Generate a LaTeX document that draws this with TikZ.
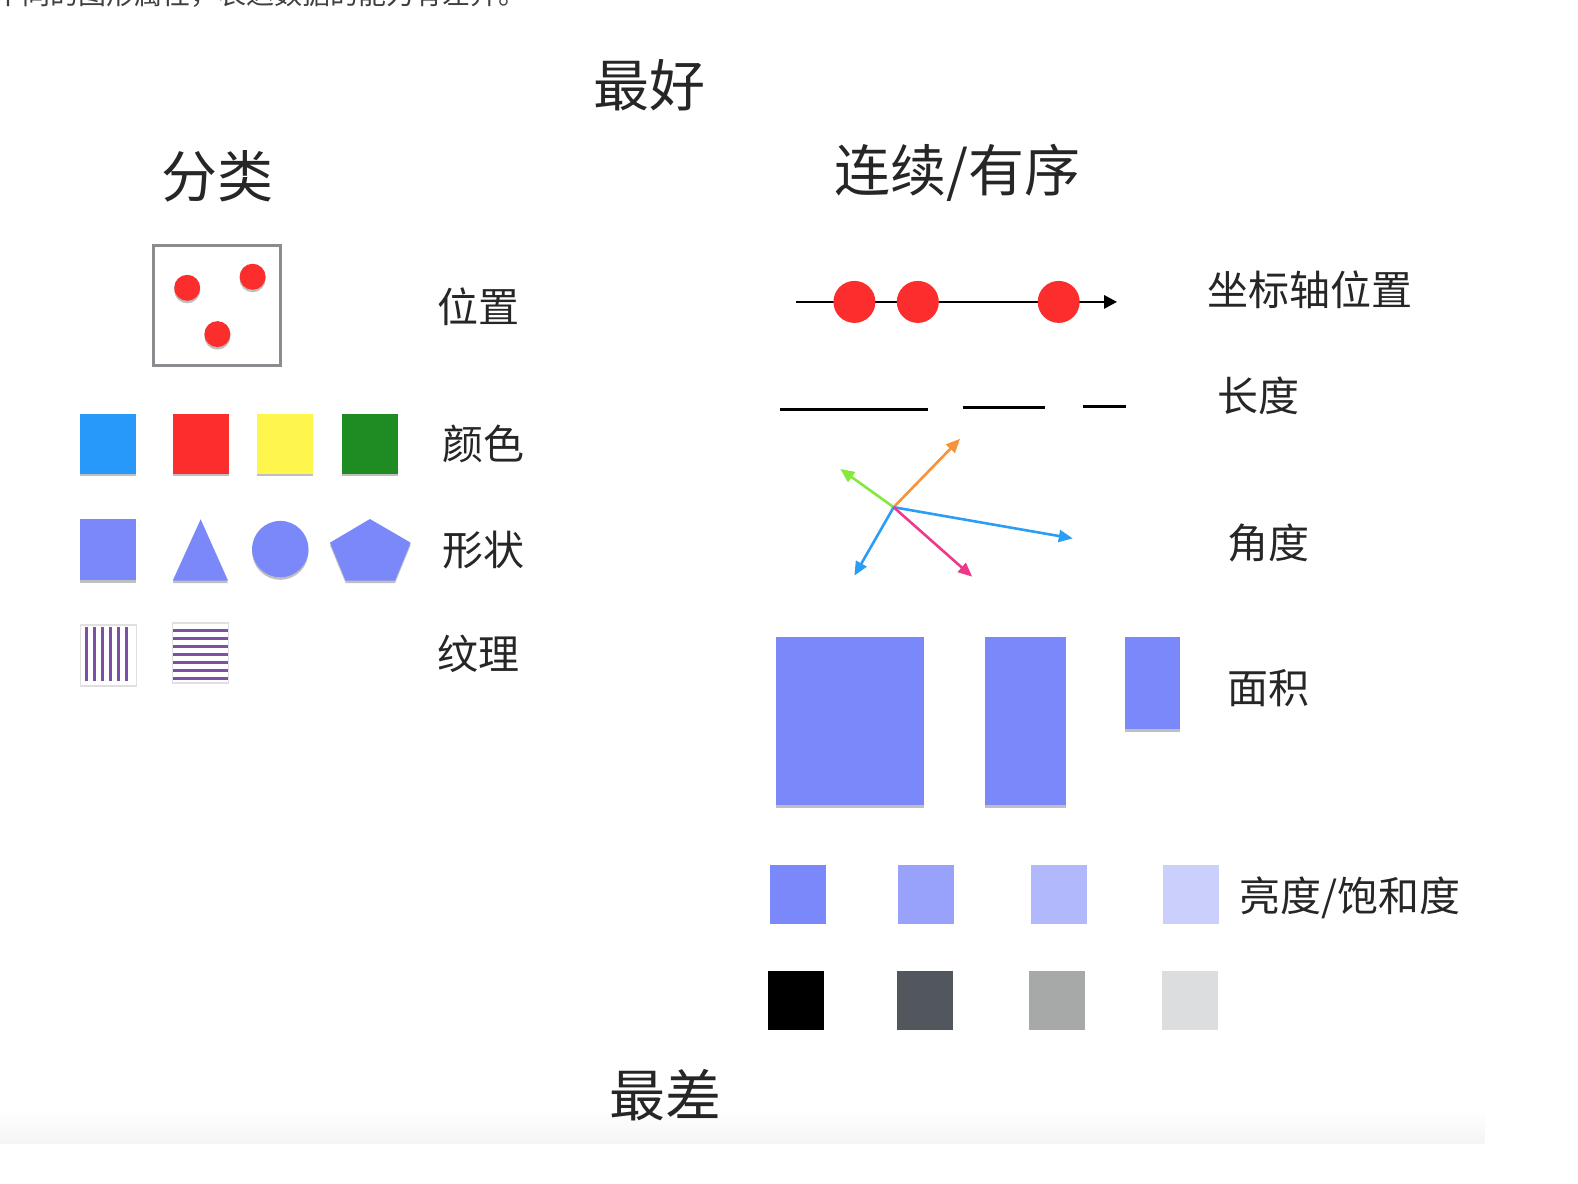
\documentclass[tikz,border=0pt]{standalone}
\usepackage{fontspec}
\setmainfont{Noto Sans CJK SC}
\definecolor{attrBlue}{HTML}{2699FB}
\definecolor{attrRed}{HTML}{FB2D2D}
\definecolor{attrYellow}{HTML}{FFF64D}
\definecolor{attrGreen}{HTML}{1E8C23}
\definecolor{shapeBlue}{HTML}{7B88FA}
\definecolor{hatchPurple}{HTML}{7D4FA8}
\definecolor{frameGray}{HTML}{8A8C90}
\definecolor{rayGreen}{HTML}{86E83A}
\definecolor{rayOrange}{HTML}{F7933A}
\definecolor{rayBlue}{HTML}{2A9DF4}
\definecolor{rayPink}{HTML}{F0388B}
\definecolor{lumA}{HTML}{7B88FA}
\definecolor{lumB}{HTML}{98A2FA}
\definecolor{lumC}{HTML}{B1B8FB}
\definecolor{lumD}{HTML}{CBCFFC}
\definecolor{greyA}{HTML}{000000}
\definecolor{greyB}{HTML}{52565D}
\definecolor{greyC}{HTML}{A7A8A8}
\definecolor{greyD}{HTML}{DCDDDF}
\usetikzlibrary{shadows,arrows.meta}

\begin{document}
\begin{tikzpicture}[
  x=1.0064pt, y=-1.0064pt,
  title/.style={font=\fontsize{56}{62}\selectfont, text=black!85},
  attr/.style={font=\fontsize{41}{46}\selectfont, text=black!85},
  soft/.style={drop shadow={shadow xshift=0pt, shadow yshift=-2.5pt, opacity=.25, fill=black}},
  swatch/.style={rectangle, inner sep=0pt, minimum width=56pt, minimum height=59pt, soft},
  dot/.style={circle, fill=attrRed, inner sep=0pt, minimum size=#1},
  dot/.default=26pt,
  hatch/.style={draw=hatchPurple, line width=3pt},
  axis/.style={-{Triangle[length=13pt,width=13pt]}, draw=black, line width=2.8pt},
  bar/.style={draw=black, line width=3pt},
  ray/.style={-{Triangle[length=14pt,width=12pt]}, line width=2.6pt}
]
  \useasboundingbox (0,0) rectangle (1568,1176);
  % cut-off line of the page above
  \begin{scope}
    \clip (0,0) rectangle (1568,20);
    \node[anchor=base west, inner sep=0pt, font=\fontsize{28}{30}\selectfont, text=black!75] (pageText) at (-6,4) {不同的图形属性，表达数据的能力有差异。};
  \end{scope}
  \shade[top color=white, bottom color=black!4] (0,1101) rectangle (1475,1136);

  % headings
  \node[title] (best) at (645,85) {最好};
  \node[title] (worst) at (661,1088) {最差};
  \node[title] (catHead) at (216,175) {分类};
  \node[title] (ordHead) at (951,172) {连续/有序};

  % categorical: position
  \node[draw=frameGray, line width=3pt, minimum width=127pt, minimum height=120pt] (posBox) at (216,304) {};
  \node[dot, soft] (posDotA) at (186,286) {};
  \node[dot, soft] (posDotB) at (251,275) {};
  \node[dot, soft] (posDotC) at (216,332) {};
  \node[attr] (posLabel) at (475,305) {位置};

  % categorical: colour
  \foreach \cx/\col [count=\i] in {107/attrBlue, 199.5/attrRed, 283.5/attrYellow, 367.5/attrGreen}
    \node[swatch, fill=\col, minimum height=60pt] (colour\i) at (\cx,441) {};
  \node[attr] (colourLabel) at (480,441) {颜色};

  % categorical: shape
  \node[swatch, fill=shapeBlue, minimum height=61pt] (shapeSquare) at (107.5,546.5) {};
  \fill[shapeBlue, soft] (199.4,516) -- (226.6,577) -- (171.6,577) -- cycle;
  \fill[shapeBlue, soft] (278.5,545.6) circle (28);
  \fill[shapeBlue, soft] (367.6,515.7) -- (408,539.2) -- (392.5,577) -- (343.5,577) -- (327.9,539.2) -- cycle;
  \node[attr] (shapeLabel) at (480,547) {形状};

  % categorical: texture
  \node[draw=black!12, line width=1.5pt, minimum width=56pt, minimum height=61pt] (texV) at (108,651.5) {};
  \foreach \lx in {86,94,...,126}
    \draw[hatch] (\lx,623) -- (\lx,676.5);
  \node[draw=black!12, line width=1.5pt, minimum width=56pt, minimum height=60pt] (texH) at (199,649) {};
  \foreach \ly in {626,634,...,674}
    \draw[hatch] (172,\ly) -- (226.5,\ly);
  \node[attr] (texLabel) at (475,650) {纹理};

  % ordered: axis position
  \coordinate (axisStart) at (791,300);
  \coordinate (axisEnd) at (1110,300);
  \draw[axis] (axisStart) -- (axisEnd);
  \node[dot=42pt] (axisDotA) at (849,300) {};
  \node[dot=42pt] (axisDotB) at (912,300) {};
  \node[dot=42pt] (axisDotC) at (1052,300) {};
  \node[attr] (axisLabel) at (1302,288) {坐标轴位置};

  % ordered: length
  \coordinate (lenA1) at (775,407);  \coordinate (lenA2) at (922,407);
  \coordinate (lenB1) at (957,405);  \coordinate (lenB2) at (1038,405);
  \coordinate (lenC1) at (1076,404); \coordinate (lenC2) at (1119,404);
  \draw[bar] (lenA1) -- (lenA2);
  \draw[bar] (lenB1) -- (lenB2);
  \draw[bar] (lenC1) -- (lenC2);
  \node[attr] (lenLabel) at (1251,393) {长度};

  % ordered: angle
  \coordinate (angO) at (888,504);
  \coordinate (angGreen) at (835,466);
  \coordinate (angOrange) at (954,436);
  \coordinate (angRight) at (1066,535);
  \coordinate (angDown) at (849,572);
  \coordinate (angPink) at (966,573);
  \foreach \tip/\col in {angGreen/rayGreen, angOrange/rayOrange, angRight/rayBlue, angDown/rayBlue, angPink/rayPink}
    \draw[ray, draw=\col, fill=\col] (angO) -- (\tip);
  \node[attr] (angLabel) at (1260,540) {角度};

  % ordered: area
  \node[swatch, fill=shapeBlue, minimum width=148pt, minimum height=168pt] (areaA) at (845,716.6) {};
  \node[swatch, fill=shapeBlue, minimum width=81pt, minimum height=168pt] (areaB) at (1018.5,716.6) {};
  \node[swatch, fill=shapeBlue, minimum width=54.5pt, minimum height=92.4pt] (areaC) at (1145.3,678.8) {};
  \node[attr] (areaLabel) at (1260,684) {面积};

  % ordered: luminance / saturation
  \foreach \cx/\col [count=\i] in {793/lumA, 920/lumB, 1052/lumC, 1183.5/lumD}
    \node[rectangle, inner sep=0pt, minimum width=56pt, minimum height=59pt, fill=\col] (lum\i) at (\cx,889) {};
  \foreach \cx/\col [count=\i] in {791/greyA, 919/greyB, 1050/greyC, 1182/greyD}
    \node[rectangle, inner sep=0pt, minimum width=56pt, minimum height=59pt, fill=\col] (grey\i) at (\cx,994) {};
  \node[attr] (lumLabel) at (1341,892) {亮度/饱和度};
\end{tikzpicture}
\end{document}
